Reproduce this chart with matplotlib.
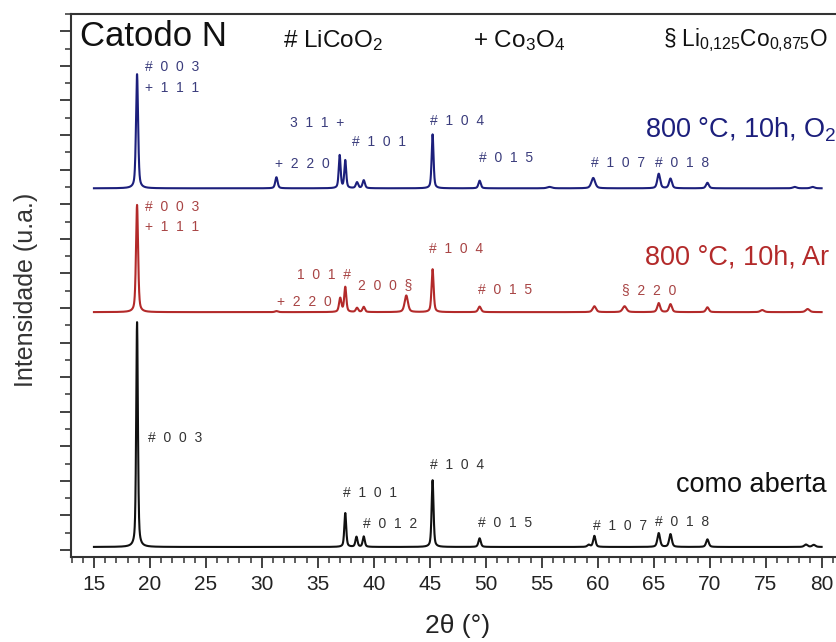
import numpy as np
import matplotlib
matplotlib.use('Agg')
import matplotlib.pyplot as plt
from matplotlib.ticker import MultipleLocator

plt.rcParams['font.family'] = ['Liberation Sans', 'DejaVu Sans']
plt.rcParams['mathtext.fontset'] = 'custom'
plt.rcParams['mathtext.rm'] = 'Liberation Sans'
plt.rcParams['mathtext.default'] = 'regular'

# picos (2theta, altura, largura) de cada difratograma
pos_o2 = [18.85, 31.3, 36.95, 37.45, 38.5, 39.1, 45.25, 49.45, 55.7, 59.6,
          65.45, 66.5, 69.8, 77.6, 79.2]
alt_o2 = [3.3, 0.32, 0.95, 0.80, 0.17, 0.23, 1.56, 0.22, 0.04, 0.30,
          0.42, 0.28, 0.16, 0.04, 0.04]
larg_o2 = [0.22, 0.25, 0.2, 0.2, 0.25, 0.25, 0.2, 0.25, 0.5, 0.4,
           0.3, 0.3, 0.3, 0.4, 0.4]
base_o2 = 10.46

pos_ar = [18.85, 31.3, 37.0, 37.45, 38.5, 39.1, 42.9, 45.25, 49.45, 59.7,
          62.4, 65.45, 66.5, 69.8, 74.7, 78.75]
alt_ar = [3.1, 0.03, 0.40, 0.72, 0.12, 0.15, 0.48, 1.24, 0.16, 0.17,
          0.17, 0.26, 0.23, 0.14, 0.06, 0.09]
larg_ar = [0.22, 0.3, 0.25, 0.22, 0.25, 0.25, 0.35, 0.22, 0.3, 0.35,
           0.4, 0.3, 0.3, 0.3, 0.4, 0.4]
base_ar = 6.88

pos_ab = [18.85, 37.45, 38.45, 39.1, 45.25, 49.45, 59.2, 59.7, 65.45, 66.5,
          69.8, 78.6, 79.3]
alt_ab = [6.5, 0.98, 0.29, 0.30, 1.93, 0.25, 0.06, 0.32, 0.40, 0.37,
          0.22, 0.07, 0.06]
larg_ab = [0.18, 0.2, 0.22, 0.22, 0.2, 0.25, 0.3, 0.25, 0.28, 0.28,
           0.28, 0.35, 0.35]
base_ab = 0.09

cor_o2 = '#1c1f7c'
cor_ar = '#b32a2a'
cor_ab = '#111111'


def padrao(tt, pos, alt, larg, base):
    # soma de pseudo-voigt
    y = np.full_like(tt, base)
    for p, h, w in zip(pos, alt, larg):
        g = np.exp(-4 * np.log(2) * ((tt - p) / w) ** 2)
        l = 1 / (1 + 4 * ((tt - p) / w) ** 2)
        y += h * (0.5 * g + 0.5 * l)
    return y


tt = np.linspace(15, 80, 6501)

fig = plt.figure(figsize=(8.37, 6.42), dpi=100)
ax = fig.add_axes([71 / 837, 85 / 642, 773 / 837, 543 / 642])

ax.plot(tt, padrao(tt, pos_o2, alt_o2, larg_o2, base_o2), color=cor_o2, lw=1.5)
ax.plot(tt, padrao(tt, pos_ar, alt_ar, larg_ar, base_ar), color=cor_ar, lw=1.5)
ax.plot(tt, padrao(tt, pos_ab, alt_ab, larg_ab, base_ab), color=cor_ab, lw=1.5)

ax.set_xlim(12.95, 82.0)
ax.set_ylim(-0.2, 15.5)

ax.xaxis.set_major_locator(MultipleLocator(5))
ax.xaxis.set_minor_locator(MultipleLocator(1))
ax.yaxis.set_major_locator(MultipleLocator(1))
ax.yaxis.set_minor_locator(MultipleLocator(0.5))
ax.tick_params(axis='both', which='major', direction='out', length=8,
               width=1.3, color='#333333')
ax.tick_params(axis='both', which='minor', direction='out', length=4,
               width=1.1, color='#333333')
ax.tick_params(axis='x', labelsize=15, pad=5, labelcolor='#222222')
ax.tick_params(axis='y', labelleft=False)
for s in ax.spines.values():
    s.set_linewidth(1.5)
    s.set_color('#333333')

ax.set_ylabel('Intensidade (u.a.)', fontsize=18, color='#333333')
ax.yaxis.set_label_coords(-0.043, 0.492)
ax.set_xlabel('2θ (°)', fontsize=19, color='#222222')
ax.xaxis.set_label_coords(0.5, -0.105)


def sp(s):
    return '  '.join(s)


rotulos = [
    # difratograma O2
    (19.55, 13.96, '#003', '#3a3c7c'), (19.55, 13.35, '+111', '#3a3c7c'),
    (32.5, 12.34, '311+', '#3a3c7c'), (38.04, 11.79, '#101', '#3a3c7c'),
    (31.16, 11.16, '+220', '#3a3c7c'), (45.0, 12.40, '#104', '#3a3c7c'),
    (49.38, 11.33, '#015', '#3a3c7c'), (59.38, 11.18, '#107', '#3a3c7c'),
    (65.09, 11.18, '#018', '#3a3c7c'),
    # difratograma Ar
    (19.55, 9.91, '#003', '#a84444'), (19.55, 9.34, '+111', '#a84444'),
    (33.13, 7.95, '101#', '#a84444'), (38.57, 7.66, '200§', '#a84444'),
    (31.34, 7.17, '+220', '#a84444'), (44.91, 8.70, '#104', '#a84444'),
    (49.29, 7.51, '#015', '#a84444'), (62.14, 7.51, '§220', '#a84444'),
    # como aberta
    (19.82, 3.24, '#003', '#333333'), (37.23, 1.65, '#101', '#333333'),
    (39.02, 0.75, '#012', '#333333'), (45.0, 2.46, '#104', '#333333'),
    (49.29, 0.78, '#015', '#333333'), (59.55, 0.69, '#107', '#333333'),
    (65.09, 0.81, '#018', '#333333'),
]
for x, y, s, c in rotulos:
    ax.text(x, y, sp(s), fontsize=10, color=c, ha='left', va='center')

ax.text(64.2, 12.14, '800 °C, 10h, O$_2$', fontsize=19.5, color=cor_o2,
        ha='left', va='center')
ax.text(64.2, 8.47, '800 °C, 10h, Ar', fontsize=19.5, color=cor_ar,
        ha='left', va='center')
ax.text(66.96, 1.88, 'como aberta', fontsize=19.5, color='#111111',
        ha='left', va='center')

ax.text(13.75, 14.85, 'Catodo N', fontsize=25, color='#111111',
        ha='left', va='center')
ax.text(31.9, 14.74, '# LiCoO$_2$', fontsize=17.5, color='#111111',
        ha='left', va='center')
ax.text(48.84, 14.74, '+ Co$_3$O$_4$', fontsize=17.5, color='#111111',
        ha='left', va='center')
ax.text(65.8, 14.74, '§ Li$_{0{,}125}$Co$_{0{,}875}$O', fontsize=16.3,
        color='#111111', ha='left', va='center')

fig.savefig('out.png', dpi=100)
